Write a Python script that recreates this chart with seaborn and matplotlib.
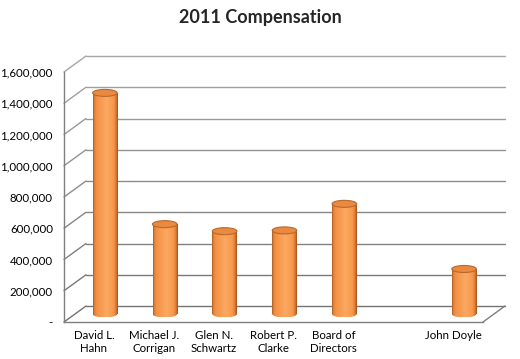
import numpy as np
import pandas as pd
import matplotlib
matplotlib.use("Agg")
import matplotlib.pyplot as plt
from matplotlib.colors import LinearSegmentedColormap
from matplotlib.patches import Ellipse
import seaborn as sns

# ---- data ----
categories = ["David L.\nHahn", "Michael J.\nCorrigan", "Glen N.\nSchwartz",
              "Robert P.\nClarke", "Board of\nDirectors", " ", "John Doyle"]
values = [1415000, 575000, 530000, 535000, 705000, np.nan, 288000]
y_ticks = [0, 200000, 400000, 600000, 800000, 1000000, 1200000, 1400000, 1600000]
y_tick_labels = ["-" if v == 0 else f"{v:,}" for v in y_ticks]
title = "2011 Compensation"

sns.set_style("white")
plt.rcParams["font.family"] = ["Lato", "DejaVu Sans"]

W, H = 520, 359
fig = plt.figure(figsize=(W / 100, H / 100), dpi=100)
# front plane of the 3D box, in pixels
left_px, right_px, bottom_px, top_px = 64, 483, 322, 72
ax = fig.add_axes([left_px / W, 1 - bottom_px / H,
                   (right_px - left_px) / W, (bottom_px - top_px) / H])
ax.set_xlim(-0.5, len(categories) - 0.5)
ax.set_ylim(0, 1600000)

# depth offset (pixels -> data units)
px_x = (right_px - left_px) / len(categories)
px_y = (bottom_px - top_px) / 1600000
ddx = 22 / px_x
ddy = 16 / px_y

df = pd.DataFrame({"name": categories, "comp": values})
sns.barplot(data=df, x="name", y="comp", order=categories, width=0.41,
            ax=ax, color="#F79646", zorder=3)

# back wall and side lines
greys = np.linspace(0.45, 0.65, len(y_ticks))
for v, g in zip(y_ticks, greys):
    c = (g, g, g)
    ax.plot([-0.5 + ddx, len(categories) - 0.5 + ddx], [v + ddy, v + ddy],
            color=c, lw=1, clip_on=False, zorder=1)
    ax.plot([-0.5, -0.5 + ddx], [v, v + ddy], color=c, lw=1, clip_on=False, zorder=1)
ax.plot([len(categories) - 0.5, len(categories) - 0.5 + ddx], [0, ddy],
        color="#7f7f7f", lw=1, clip_on=False, zorder=1)

# cylinder shading
cmap = LinearSegmentedColormap.from_list(
    "cyl", [(0.0, "#a85a22"), (0.05, "#e2813a"), (0.16, "#f59346"),
            (0.55, "#fca862"), (0.82, "#f8994c"), (0.93, "#de7b33"), (1.0, "#9c5220")])
grad = np.linspace(0, 1, 64).reshape(1, -1)
eh = 7 / px_y  # ellipse height in data units
for p in list(ax.patches):
    h = p.get_height()
    if not np.isfinite(h) or h <= 0:
        p.set_visible(False)
        continue
    x0 = p.get_x() + ddx / 2
    w = p.get_width()
    y0 = ddy / 2
    p.set_x(x0)
    p.set_y(y0)
    p.set_facecolor("none")
    p.set_edgecolor("none")
    im = ax.imshow(grad, cmap=cmap, aspect="auto", extent=[x0, x0 + w, y0, y0 + h],
                   zorder=3, interpolation="bilinear")
    im.set_clip_path(p)
    bot = Ellipse((x0 + w / 2, y0), w, eh, facecolor="none", edgecolor="none")
    ax.add_patch(bot)
    im2 = ax.imshow(grad, cmap=cmap, aspect="auto",
                    extent=[x0, x0 + w, y0 - eh / 2, y0 + eh / 2],
                    zorder=2.9, interpolation="bilinear")
    im2.set_clip_path(bot)
    top = Ellipse((x0 + w / 2, y0 + h), w, eh, facecolor="#e98a40",
                  edgecolor="#b8682c", lw=0.8, zorder=4)
    ax.add_patch(top)

ax.set_xlim(-0.5, len(categories) - 0.5)
ax.set_ylim(0, 1600000)

# axes styling
for s in ["top", "right"]:
    ax.spines[s].set_visible(False)
for s in ["left", "bottom"]:
    ax.spines[s].set_color("#7f7f7f")
    ax.spines[s].set_linewidth(1)
ax.set_yticks(y_ticks)
ax.set_yticklabels(y_tick_labels)
ax.set_xticks(range(len(categories)))
ax.set_xticklabels(categories)
ax.set_xticks(np.arange(-0.5, len(categories)), minor=True)
ax.tick_params(axis="x", which="major", length=0, pad=6, labelsize=8.3, colors="black")
ax.tick_params(axis="x", which="minor", length=5, color="#7f7f7f", width=1, direction="out")
ax.tick_params(axis="y", length=5, color="#7f7f7f", width=1, direction="out",
               labelsize=8.3, pad=3, colors="black")
ax.set_xlabel("")
ax.set_ylabel("")
ax.grid(False)

fig.text(0.5, 1 - 18 / H, title, ha="center", va="center",
         fontsize=13, fontweight="bold")

fig.savefig("out.png", dpi=100, facecolor="white")
